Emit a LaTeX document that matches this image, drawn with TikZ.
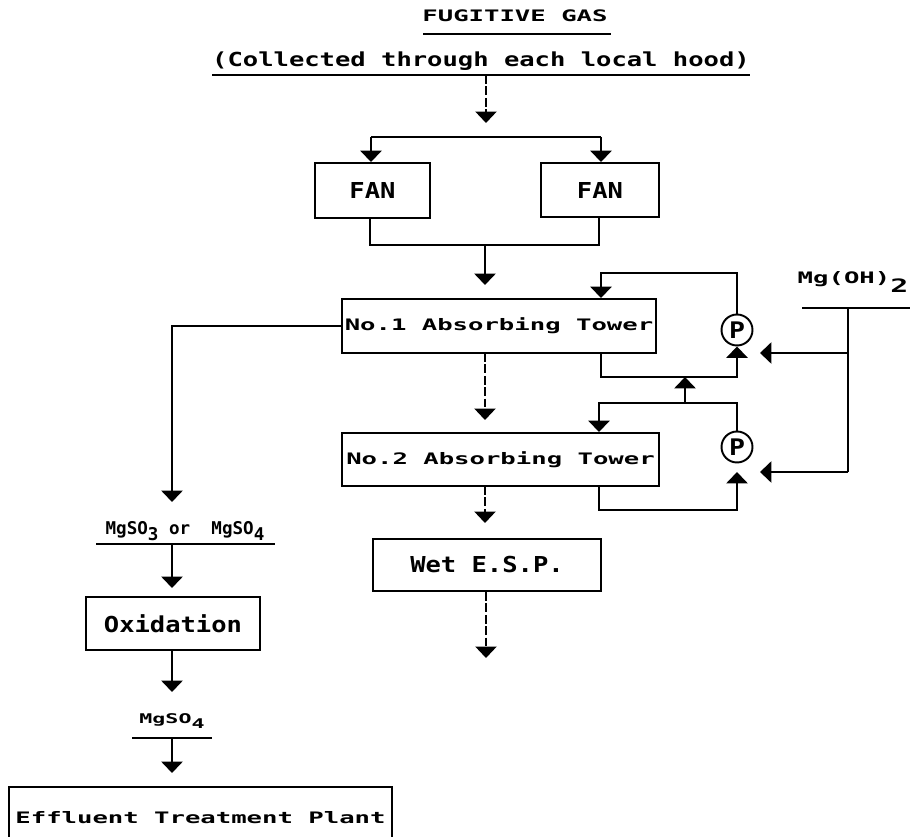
\documentclass[tikz,border=0pt]{standalone}
\usepackage{fontspec}
\usetikzlibrary{arrows.meta, positioning, calc}
% wide dot-matrix style lettering
\newfontfamily\printfont[FakeStretch=1.62]{DejaVu Sans Mono}
\newfontfamily\midprint[FakeStretch=1.32]{DejaVu Sans Mono}
\newfontfamily\bigprint[FakeStretch=1.16]{DejaVu Sans Mono}
\newfontfamily\plainprint{DejaVu Sans Mono}
\newcommand{\lowsub}[1]{\raisebox{-0.6ex}{#1}}

\tikzset{
  unitbox/.style={draw, line width=1.1pt, inner sep=0pt},
  bigtext/.style={font=\bigprint\bfseries\fontsize{12.5}{14}\selectfont},
  pipe/.style={line width=1.5pt},
  flow/.style={pipe, -{Triangle[width=12pt,length=6.5pt]}},
  gasflow/.style={line width=1.1pt, dash pattern=on 5pt off 1.5pt,
    -{Triangle[width=12pt,length=6.5pt]}},
  pump/.style={draw, circle, line width=1.1pt, minimum size=0.62cm, inner sep=0pt,
    font=\bigprint\bfseries\fontsize{13}{14}\selectfont},
  rule/.style={line width=1pt}
}

\begin{document}
\begin{tikzpicture}[x=0.02cm, y=-0.02cm,
  font=\printfont\bfseries\fontsize{9}{11}\selectfont]
\fill[white] (0,0) rectangle (910,837);
\useasboundingbox (0,0) rectangle (910,837);

% ---- heading ----
\node (gas) at (515,16) {FUGITIVE GAS};
\draw[rule] (423,34) -- (611,34);
\node[font=\midprint\bfseries\fontsize{11}{13}\selectfont] (hood) at (481,61)
  {(Collected through each local hood)};
\draw[rule] (212,75) -- (750,75);

% ---- fans ----
\node[unitbox, bigtext, minimum width=2.3cm, minimum height=1.1cm] (fanL) at (372.5,190.5) {FAN};
\node[unitbox, bigtext, minimum width=2.36cm, minimum height=1.08cm] (fanR) at (600,190) {FAN};

\coordinate (hoodtap) at (486,75);
\coordinate (split) at (486,123);
\draw[gasflow] (hoodtap) -- (split);
\coordinate (splitL) at (371,137);
\coordinate (splitR) at (601,137);
\draw[rule] (splitL) -- (splitR);
\draw[flow] (splitL) -- (splitL |- fanL.north);
\draw[flow] (splitR) -- (splitR |- fanR.north);

\coordinate (mergeL) at (370,245);
\coordinate (mergeR) at (599,245);
\draw[pipe] (mergeL |- fanL.south) -- (mergeL) -- (mergeR) -- (mergeR |- fanR.south);
\coordinate (merge) at (485,245);
\coordinate (inA) at (485,285);
\draw[flow] (merge) -- (inA);

% ---- absorbing towers and pumps ----
\node[unitbox, minimum width=6.28cm, minimum height=1.08cm] (towerA) at (499,326) {No.1 Absorbing Tower};
\node[unitbox, minimum width=6.34cm, minimum height=1.06cm] (towerB) at (500.5,459.5) {No.2 Absorbing Tower};
\node[pump] (pumpA) at (737,330) {P};
\node[pump] (pumpB) at (737,447) {P};

% recirculation No.1
\coordinate (retA) at (601,273);
\draw[flow] (pumpA.north) |- (retA) -- (retA |- towerA.north);
\coordinate (outA) at (601,377);
\draw[flow] (outA |- towerA.south) -- (outA) -| (pumpA.south);

% recirculation No.2
\coordinate (retB) at (599,403);
\draw[flow] (pumpB.north) |- (retB) -- (retB |- towerB.north);
\coordinate (outB) at (599,510);
\coordinate (feedB) at (737,472);
\draw[flow] (outB |- towerB.south) -- (outB) -| (feedB);

% make-up from No.2 loop to No.1 loop
\coordinate (teeB) at (685,403);
\coordinate (teeA) at (685,377);
\draw[flow] (teeB) -- (teeA);

% ---- Mg(OH)2 feed ----
\node (mgoh) at (853,282) {Mg(OH)\raisebox{-1.1ex}{\fontsize{10.5}{12}\selectfont 2}};
\draw[rule] (802,308) -- (910,308);
\coordinate (mgtop) at (848,308);
\coordinate (mgbot) at (848,472);
\draw[pipe] (mgtop) -- (mgbot);
\coordinate (mgA) at (848,353);
\coordinate (dosA) at (760,353);
\coordinate (dosB) at (760,472);
\draw[flow] (mgA) -- (dosA);
\draw[flow] (mgbot) -- (dosB);

% ---- gas path ----
\coordinate (gasA) at (485,353);
\coordinate (gasB) at (485,420);
\draw[gasflow] (gasA) -- (gasB);
\node[unitbox, bigtext, minimum width=4.56cm, minimum height=1.04cm] (esp) at (487,565) {Wet E.S.P.};
\coordinate (gasC) at (485,486);
\coordinate (gasD) at (485,523);
\draw[gasflow] (gasC) -- (gasD);
\coordinate (stack) at (486,658);
\draw[gasflow] (esp.south -| stack) -- (stack);

% ---- bleed line ----
\coordinate (bleed) at (172,326);
\coordinate (salt) at (172,502);
\draw[flow] (towerA.west) -- (bleed) -- (salt);

\node[font=\plainprint\bfseries\fontsize{10}{12}\selectfont] (sulfite) at (185,531)
  {MgSO\lowsub{3} or\ \ MgSO\lowsub{4}};
\draw[rule] (96,544) -- (275,544);
\coordinate (sulfitetap) at (172,544);
\coordinate (toox) at (172,588);
\draw[flow] (sulfitetap) -- (toox);

\node[unitbox, bigtext, minimum width=3.48cm, minimum height=1.06cm] (oxid) at (173,623.5) {Oxidation};
\coordinate (sulfate) at (172,692);
\draw[flow] (sulfate |- oxid.south) -- (sulfate);

\node[font=\printfont\bfseries\fontsize{7.6}{9}\selectfont] (mgso) at (172,721) {MgSO\lowsub{4}};
\draw[rule] (132,738) -- (212,738);
\coordinate (mgsotap) at (172,738);
\coordinate (toetp) at (172,773);
\draw[flow] (mgsotap) -- (toetp);

\node[unitbox, minimum width=7.66cm, minimum height=1.24cm] (etp) at (200.5,818) {Effluent Treatment Plant};
\end{tikzpicture}
\end{document}
